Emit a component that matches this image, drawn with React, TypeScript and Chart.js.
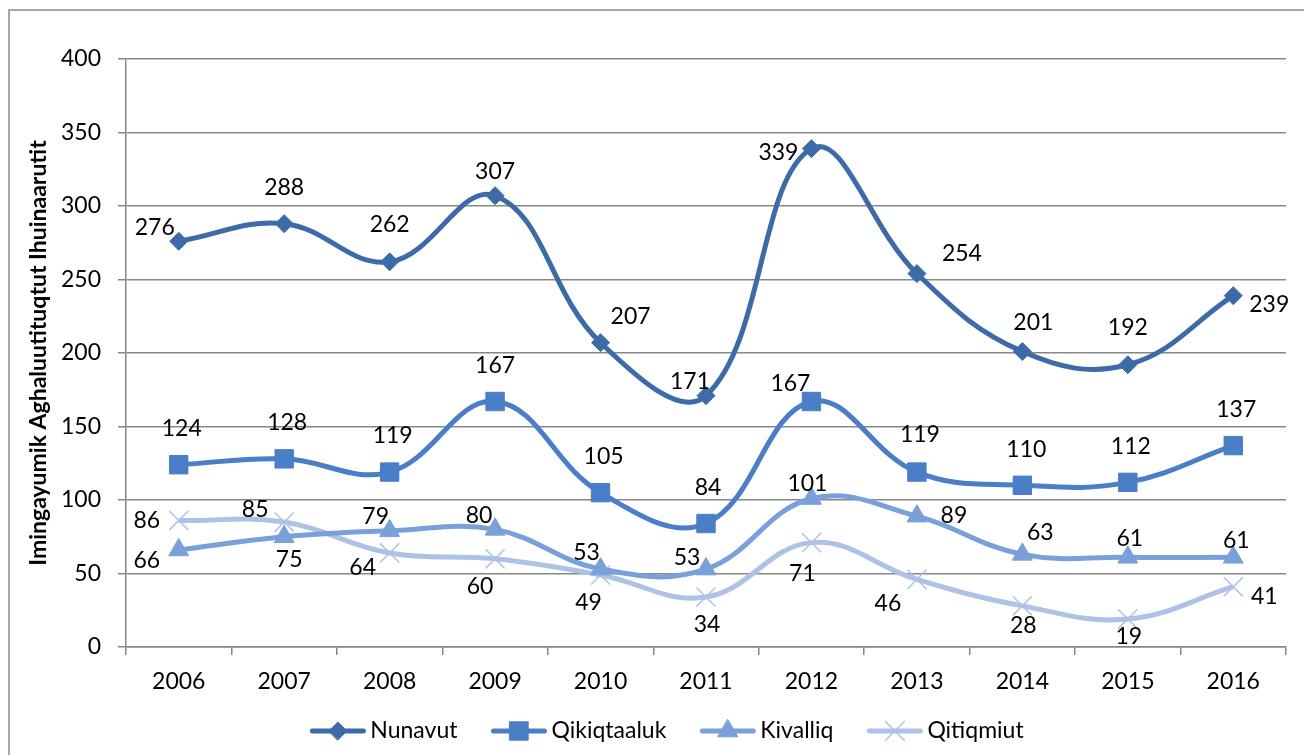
import React, { useEffect, useRef } from 'react';
import { Chart, registerables } from 'chart.js';
import { drawPoint } from 'chart.js/helpers';

Chart.register(...registerables);

const years = ['2006', '2007', '2008', '2009', '2010', '2011', '2012', '2013', '2014', '2015', '2016'];
const nunavut = [276, 288, 262, 307, 207, 171, 339, 254, 201, 192, 239];
const qikiqtaaluk = [124, 128, 119, 167, 105, 84, 167, 119, 110, 112, 137];
const kivalliq = [66, 75, 79, 80, 53, 53, 101, 89, 63, 61, 61];
const qitiqmiut = [86, 85, 64, 60, 49, 34, 71, 46, 28, 19, 41];
const seriesNames = ['Nunavut', 'Qikiqtaaluk', 'Kivalliq', 'Qitiqmiut'];
const yAxisTitle = 'Imingayumik Aghaluutituqtut Ihuinaarutit';
const yMin = 0;
const yMax = 400;
const yStep = 50;

// label nudges (pixels) relative to each marker: [dx, dy]
const nunavutLabelPos = [[-24, -14], [0, -36], [0, -37], [0, -24], [30, -26], [-16, -14], [-33, 4], [45, -20], [11, -29], [0, -37], [36, 9]];
const qikiqLabelPos = [[3, -36], [3, -36], [3, -36], [0, -36], [3, -36], [2, -36], [-21, -18], [3, -37], [4, -36], [3, -36], [3, -36]];
const kivalliqLabelPos = [[-32, 11], [5, 23], [-14, -14], [-16, -14], [-14, -17], [-19, -12], [-4, -15], [37, -1], [18, -22], [2, -19], [3, -17]];
const qitiqLabelPos = [[-32, 0], [-29, -12], [-27, 15], [-15, 28], [-12, 28], [1, 28], [-9, 31], [-29, 24], [1, 20], [1, 18], [31, 10]];

const FONT = 'Lato, "Open Sans", "Liberation Sans", sans-serif';
const GRID = '#878787';
const FS = 23;

const colors = ['#3d6ba8', '#4a7ec6', '#7aa0da', '#adc2e6'];
const pointStyles = ['rectRot', 'rect', 'triangle', 'crossRot'];
const pointRadii = [9, 13, 11.5, 13.5];
const labelPositions = [nunavutLabelPos, qikiqLabelPos, kivalliqLabelPos, qitiqLabelPos];
const seriesData = [nunavut, qikiqtaaluk, kivalliq, qitiqmiut];

export default function App() {
  const canvasRef = useRef<HTMLCanvasElement | null>(null);

  useEffect(() => {
    const canvas = canvasRef.current;
    if (!canvas) return;

    const framePlugin = {
      id: 'frame',
      beforeDraw(chart: any) {
        const ctx = chart.ctx;
        ctx.save();
        ctx.fillStyle = '#ffffff';
        ctx.fillRect(0, 0, chart.width, chart.height);
        ctx.strokeStyle = '#8c8c8c';
        ctx.lineWidth = 1.5;
        ctx.strokeRect(9, 10, 1400, 800);
        ctx.restore();
      },
    };

    const labelPlugin = {
      id: 'pointLabels',
      afterDatasetsDraw(chart: any) {
        const ctx = chart.ctx;
        ctx.save();
        ctx.font = `${FS}px ${FONT}`;
        ctx.fillStyle = '#000000';
        ctx.textAlign = 'center';
        ctx.textBaseline = 'middle';
        chart.data.datasets.forEach((ds: any, di: number) => {
          const meta = chart.getDatasetMeta(di);
          meta.data.forEach((el: any, i: number) => {
            const off = labelPositions[di][i];
            ctx.fillText(String(ds.data[i]), el.x + off[0], el.y + off[1]);
          });
        });
        ctx.restore();
      },
    };

    const legendPlugin = {
      id: 'customLegend',
      afterDraw(chart: any) {
        const ctx = chart.ctx;
        ctx.save();
        ctx.font = `${FS}px ${FONT}`;
        const lineLen = 55;
        const textGap = 5;
        const itemGap = 34;
        const widths = seriesNames.map((n) => ctx.measureText(n).width);
        const total = widths.reduce((a, w) => a + lineLen + textGap + w, 0) + itemGap * (seriesNames.length - 1);
        let x = 667 - total / 2;
        const y = 731;
        seriesNames.forEach((name, i) => {
          ctx.strokeStyle = colors[i];
          ctx.lineWidth = 5;
          ctx.lineCap = 'round';
          ctx.beginPath();
          ctx.moveTo(x + 2, y);
          ctx.lineTo(x + lineLen - 2, y);
          ctx.stroke();
          ctx.fillStyle = colors[i];
          ctx.strokeStyle = colors[i];
          ctx.lineWidth = pointStyles[i] === 'crossRot' ? 1.5 : 1;
          drawPoint(ctx, { pointStyle: pointStyles[i], radius: pointRadii[i], rotation: 0, borderWidth: ctx.lineWidth } as any, x + lineLen / 2, y);
          ctx.fillStyle = '#000000';
          ctx.textAlign = 'left';
          ctx.textBaseline = 'middle';
          ctx.fillText(name, x + lineLen + textGap, y);
          x += lineLen + textGap + widths[i] + itemGap;
        });
        ctx.restore();
      },
    };

    const chart = new Chart(canvas, {
      type: 'line',
      data: {
        labels: years,
        datasets: seriesNames.map((name, i) => ({
          label: name,
          data: seriesData[i],
          borderColor: colors[i],
          backgroundColor: colors[i],
          borderWidth: 5,
          tension: 0.4,
          pointStyle: pointStyles[i] as any,
          pointRadius: pointRadii[i],
          pointHoverRadius: pointRadii[i],
          pointBackgroundColor: colors[i],
          pointBorderColor: colors[i],
          pointBorderWidth: pointStyles[i] === 'crossRot' ? 1.5 : 1,
          fill: false,
        })),
      },
      options: {
        responsive: false,
        animation: false,
        devicePixelRatio: 1,
        layout: { padding: { left: 0, top: 59, right: 18, bottom: 60 } },
        plugins: {
          legend: { display: false },
          tooltip: { enabled: false },
        },
        scales: {
          x: {
            type: 'category',
            offset: true,
            grid: {
              offset: true,
              drawOnChartArea: false,
              drawTicks: true,
              tickLength: 8,
              color: GRID,
              lineWidth: 1.5,
            },
            border: { color: GRID, width: 1.5 },
            ticks: { color: '#000', font: { family: FONT, size: FS }, padding: 13, maxRotation: 0 },
            afterFit(scale: any) {
              scale.height = 48;
            },
          },
          y: {
            min: yMin,
            max: yMax,
            ticks: { stepSize: yStep, color: '#000', font: { family: FONT, size: FS }, padding: 17 },
            grid: { color: GRID, lineWidth: 1.5, tickLength: 8 },
            border: { color: GRID, width: 1.5 },
            title: {
              display: true,
              text: yAxisTitle,
              color: '#000',
              font: { family: FONT, size: 23, weight: 'bold' },
              padding: { top: 25, bottom: 0 },
            },
            afterFit(scale: any) {
              scale.width = 126;
            },
          },
        },
      },
      plugins: [framePlugin, labelPlugin, legendPlugin],
    });

    return () => {
      chart.destroy();
    };
  }, []);

  return (
    <div style={{ position: 'fixed', left: 0, top: 0, width: 1304, height: 755, background: '#fff' }}>
      <canvas ref={canvasRef} width={1304} height={755} style={{ display: 'block', width: 1304, height: 755 }} />
    </div>
  );
}
